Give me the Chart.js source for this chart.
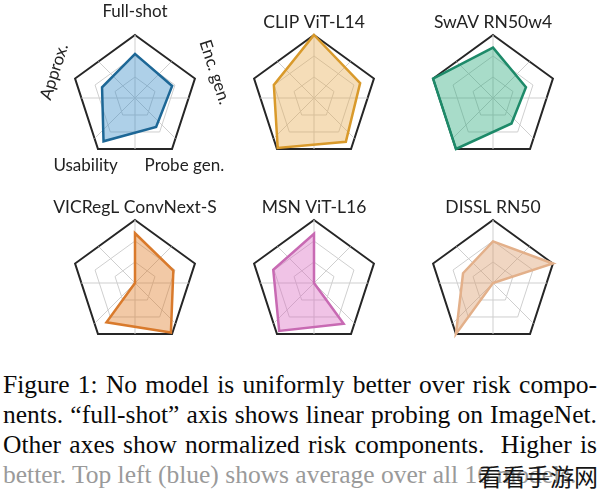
<!DOCTYPE html>
<html>
<head>
<meta charset="utf-8">
<script src="https://cdn.jsdelivr.net/npm/chart.js@4.4.1/dist/chart.umd.min.js"></script>
<style>
  html, body { margin: 0; padding: 0; background: #ffffff; }
  #wrap { position: relative; width: 600px; height: 495px; overflow: hidden; background: #fff; }
  canvas { position: absolute; }
  #caption { position: absolute; left: 3px; top: 370px; width: 594px; font-family: "Liberation Serif", "Times New Roman", serif; font-size: 25.5px; line-height: 30px; color: #0a0a0a; }
  #caption div { white-space: nowrap; }
  #caption .j { text-align: justify; text-align-last: justify; }
  #caption .last { color: #9a9a9a; }
  #wm { position: absolute; right: 2px; top: 461px; font-family: "Noto Sans CJK SC", sans-serif; font-size: 24px; line-height: 30px; color: #151515; }
</style>
</head>
<body>
<div id="wrap">
  <canvas id="c0" width="230" height="185" style="left:20px;top:0px;width:230px;height:185px"></canvas>
  <canvas id="c1" width="170" height="171" style="left:229px;top:0px;width:170px;height:171px"></canvas>
  <canvas id="c2" width="170" height="171" style="left:408px;top:0px;width:170px;height:171px"></canvas>
  <canvas id="c3" width="170" height="171" style="left:50px;top:185px;width:170px;height:171px"></canvas>
  <canvas id="c4" width="170" height="171" style="left:229px;top:185px;width:170px;height:171px"></canvas>
  <canvas id="c5" width="170" height="171" style="left:408px;top:185px;width:170px;height:171px"></canvas>
  <div id="caption">
    <div class="j">Figure 1: No model is uniformly better over risk compo-</div>
    <div class="j">nents. “full-shot” axis shows linear probing on ImageNet.</div>
    <div class="j">Other axes show normalized risk components.&nbsp; Higher is</div>
    <div class="last">better. Top left (blue) shows average over all 16 models.</div>
  </div>
  <div id="wm">看看手游网</div>
</div>
<script>
// ---- data ----
const axisLabels = ['Full-shot', 'Enc. gen.', 'Probe gen.', 'Usability', 'Approx.'];
const gridLevels = [0, 1/3, 2/3, 1];
const modelNames = ['Average', 'CLIP ViT-L14', 'SwAV RN50w4', 'VICRegL ConvNext-S', 'MSN ViT-L16', 'DISSL RN50'];
const averageValues = [0.70, 0.62, 0.57, 0.85, 0.55];
const clipValues    = [1.00, 0.77, 0.86, 0.98, 0.67];
const swavValues    = [0.80, 0.55, 0.50, 1.00, 1.00];
const vicreglValues = [0.79, 0.64, 0.97, 0.77, 0.00];
const msnValues     = [0.78, 0.00, 0.80, 0.94, 0.68];
const dsslValues    = [0.66, 1.00, 0.00, 1.00, 0.50];
const borderColors = ['#1d6796', '#d99a2b', '#1d8a69', '#d97a2c', '#c86ab3', '#e3b08a'];
const fillColors = ['rgba(53,138,198,0.40)', 'rgba(230,170,77,0.4)', 'rgba(37,167,120,0.4)', 'rgba(222,120,32,0.4)', 'rgba(217,105,192,0.4)', 'rgba(217,152,102,0.4)'];
const allValues = [averageValues, clipValues, swavValues, vicreglValues, msnValues, dsslValues];

// label placement for the first panel: [distance from centre, rotation in degrees]
const labelPlacement = [[86, 0], [84, 72], [84, 0], [84, 0], [85, -72]];

const spokesPlugin = {
  id: 'spokes',
  beforeDatasetsDraw(chart) {
    const s = chart.scales.r;
    const ctx = chart.ctx;
    const cx = s.xCenter, cy = s.yCenter, R = s.drawingArea;
    ctx.save();
    ctx.strokeStyle = '#cfcfcf';
    ctx.lineWidth = 1;
    for (let k = 0; k < 8; k++) {
      const th = k * 45;
      let m = (((th + 54) % 72) + 72) % 72;
      if (m > 36) m -= 72;
      const d = R * Math.cos(36 * Math.PI / 180) / Math.cos(m * Math.PI / 180);
      const a = th * Math.PI / 180;
      ctx.beginPath();
      ctx.moveTo(cx, cy);
      ctx.lineTo(cx + d * Math.cos(a), cy + d * Math.sin(a));
      ctx.stroke();
    }
    ctx.restore();
  }
};

const axisLabelPlugin = {
  id: 'axisLabelsText',
  afterDraw(chart, args, opts) {
    if (!opts || !opts.show) return;
    const s = chart.scales.r;
    const ctx = chart.ctx;
    ctx.save();
    ctx.font = '17px Lato';
    ctx.fillStyle = '#222';
    ctx.textAlign = 'center';
    ctx.textBaseline = 'middle';
    axisLabels.forEach((lab, i) => {
      const p = s.getPointPosition(i, labelPlacement[i][0]);
      ctx.save();
      ctx.translate(p.x, p.y);
      ctx.rotate(labelPlacement[i][1] * Math.PI / 180);
      ctx.fillText(lab, 0, 0);
      ctx.restore();
    });
    ctx.restore();
  }
};

function makeRadar(id, idx) {
  const withTitle = idx > 0;
  new Chart(document.getElementById(id), {
    type: 'radar',
    data: {
      labels: axisLabels,
      datasets: [{
        label: modelNames[idx],
        data: allValues[idx],
        borderColor: borderColors[idx],
        backgroundColor: fillColors[idx],
        borderWidth: 2.5,
        pointRadius: 0,
        pointHoverRadius: 0,
        fill: true,
        clip: false,
        borderJoinStyle: 'miter'
      }]
    },
    options: {
      responsive: false,
      animation: false,
      devicePixelRatio: 1,
      layout: { padding: withTitle ? { top: 4, bottom: 10, left: 0, right: 0 } : { top: 35, bottom: 24, left: 0, right: 0 } },
      plugins: {
        legend: { display: false },
        tooltip: { enabled: false },
        title: {
          display: withTitle,
          text: modelNames[idx],
          color: '#222',
          font: { family: 'Lato', size: 17.5, weight: 'normal', lineHeight: '20px' },
          padding: { top: 8, bottom: 3 }
        },
        axisLabelsText: { show: !withTitle }
      },
      scales: {
        r: {
          min: 0,
          max: 1,
          afterBuildTicks: (scale) => { scale.ticks = gridLevels.map(v => ({ value: v })); },
          ticks: { display: false },
          pointLabels: { display: false },
          angleLines: { display: false },
          grid: {
            circular: false,
            color: (c) => c.index === gridLevels.length - 1 ? '#262626' : '#cfcfcf',
            lineWidth: (c) => c.index === gridLevels.length - 1 ? 2 : 1
          }
        }
      }
    },
    plugins: [spokesPlugin, axisLabelPlugin]
  });
}

['c0', 'c1', 'c2', 'c3', 'c4', 'c5'].forEach((id, i) => makeRadar(id, i));
</script>
</body>
</html>
